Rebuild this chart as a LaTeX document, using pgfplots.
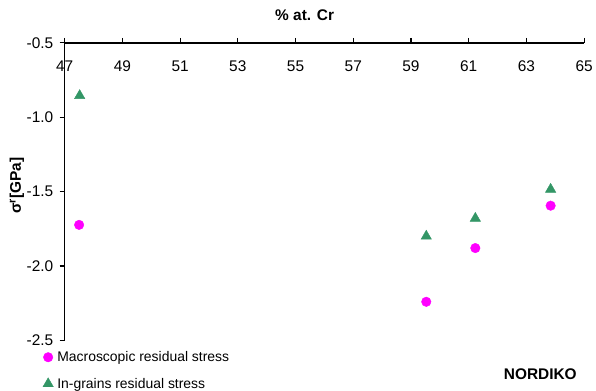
\documentclass[border=0pt]{standalone}
\usepackage{pgfplots}
\pgfplotsset{compat=1.18}
\usepackage{fontspec}
\setmainfont{Liberation Sans}
\definecolor{mgreen}{RGB}{51,150,102}
\definecolor{mmag}{RGB}{255,0,255}
\begin{document}
\begin{tikzpicture}[font=\fontsize{14}{16}\selectfont]
\begin{axis}[
  scale only axis,
  width=522pt, height=299pt,
  xmin=47, xmax=65, ymin=-2.5, ymax=-0.5,
  axis x line=top, axis y line=left,
  axis line style={line width=1.5pt, -},
  xtick={47,49,...,65},
  ytick={-2.5,-2,-1.5,-1,-0.5},
  tick align=outside,
  major tick length=5pt,
  tick style={line width=1.2pt, black},
  tick label style={font=\fontsize{15.5}{17}\selectfont},
  /pgf/number format/assume math mode=true,
  yticklabel style={xshift=-3pt, /pgf/number format/.cd, fixed, fixed zerofill, precision=1},
  xticklabel style={anchor=north, yshift=-20pt},
  title={\bfseries \% at. Cr},
  title style={at={(axis description cs:0.462,1)}, anchor=south, yshift=13pt, font=\fontsize{15.5}{17}\selectfont},
  ylabel={\bfseries σ\textsuperscript{r}[GPa]},
  ylabel style={at={([xshift=-48pt]axis description cs:0,0.52)}, anchor=center, font=\fontsize{15.5}{17}\selectfont},
  clip=false,
  legend style={draw=none, fill=none, at={(axis description cs:0,0)}, anchor=north west, xshift=-22pt, yshift=-10pt, row sep=13pt, column sep=3pt, inner sep=0pt, nodes={inner sep=1pt}},
  legend cell align=left,
  legend image code/.code={\draw[mark repeat=2,mark phase=2,#1] plot coordinates {(0pt,0pt) (5pt,0pt) (10pt,0pt)};},
]
\addplot[only marks, mark=*, mark size=4.8pt, draw=mmag, fill=mmag] coordinates {
 (47.5,-1.724) (59.53,-2.241) (61.23,-1.880) (63.84,-1.595)};
\addlegendentry{Macroscopic residual stress}
\addplot[only marks, mark=triangle*, mark size=6pt, draw=mgreen, fill=mgreen] coordinates {
 (47.52,-0.855) (59.53,-1.800) (61.23,-1.680) (63.84,-1.485)};
\addlegendentry{In-grains residual stress}
\node[anchor=east, font=\fontsize{15.5}{17}\selectfont\bfseries] at ([xshift=5pt,yshift=-34pt]axis description cs:0.983,0) {NORDIKO};
\end{axis}
\path ([xshift=-65pt,yshift=-50pt]current axis.south west) rectangle ([xshift=9pt,yshift=43pt]current axis.north east);
\end{tikzpicture}
\end{document}
